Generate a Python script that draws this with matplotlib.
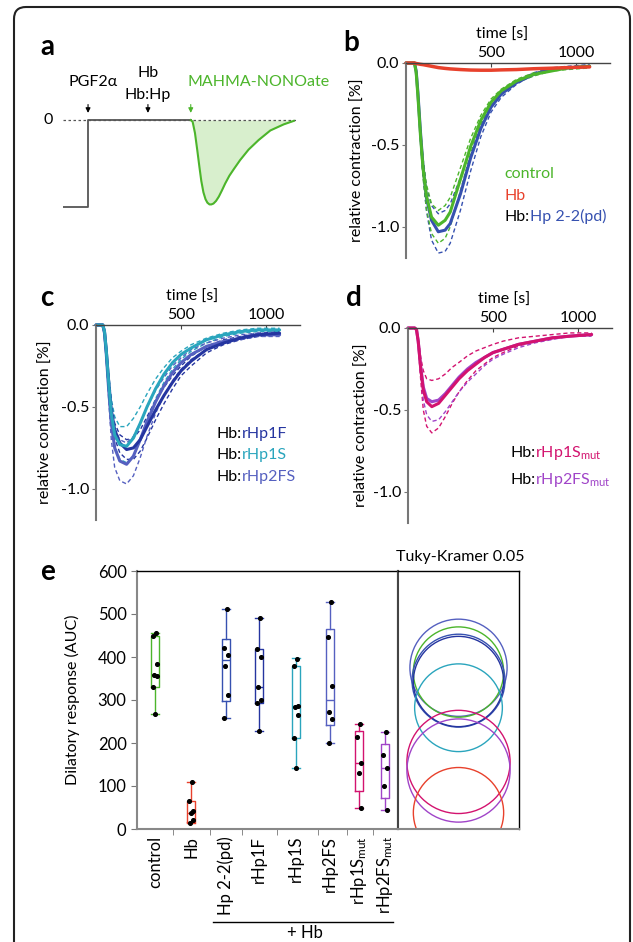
import numpy as np
import matplotlib
matplotlib.use("Agg")
import matplotlib.pyplot as plt
import matplotlib.transforms as mtransforms
from matplotlib.patches import FancyBboxPatch, Circle

plt.rcParams['font.family'] = ['Lato', 'DejaVu Sans']
plt.rcParams['mathtext.default'] = 'regular'

# ---- panel a: schematic trace ----
a_step_x = [0, 10.7, 10.7, 54.6]
a_step_y = [-1, -1, 0, 0]
a_dip_x = [54.6, 55.4, 56.4, 57.4, 58.3, 59.1, 60.0, 60.9, 61.7, 62.6, 63.4, 64.3, 65.4, 66.6,
           67.9, 69.3, 71.1, 73.1, 75.7, 79.3, 83.6, 88.6, 94.3, 98.6]
a_dip_y = [0, -0.02, -0.15, -0.35, -0.54, -0.70, -0.83, -0.91, -0.95, -0.97, -0.97, -0.96, -0.93, -0.88,
           -0.81, -0.73, -0.64, -0.56, -0.46, -0.34, -0.23, -0.12, -0.05, -0.01]

# ---- panel b ----
t_b = [0, 50, 60, 70, 85, 100, 120, 150, 190, 230, 260, 320, 380, 440, 500, 560, 650, 750, 850, 950, 1080]
b_control = [0, 0, -0.06, -0.2, -0.44, -0.64, -0.81, -0.94, -0.99, -0.96, -0.91, -0.71, -0.51, -0.35, -0.24, -0.17, -0.11, -0.07, -0.05, -0.03, -0.02]
b_control_hi = [0, 0, -0.05, -0.18, -0.40, -0.58, -0.74, -0.86, -0.90, -0.87, -0.82, -0.64, -0.46, -0.32, -0.22, -0.16, -0.10, -0.06, -0.04, -0.03, -0.02]
b_control_lo = [0, 0, -0.07, -0.22, -0.48, -0.70, -0.89, -1.04, -1.10, -1.07, -1.0, -0.78, -0.55, -0.38, -0.26, -0.18, -0.12, -0.08, -0.05, -0.04, -0.03]
b_hbhp = [0, 0, -0.05, -0.18, -0.42, -0.63, -0.82, -0.96, -1.03, -1.02, -0.98, -0.80, -0.58, -0.40, -0.27, -0.19, -0.12, -0.07, -0.04, -0.03, -0.02]
b_hbhp_hi = [0, 0, -0.05, -0.17, -0.40, -0.60, -0.76, -0.87, -0.92, -0.90, -0.86, -0.70, -0.52, -0.37, -0.26, -0.18, -0.11, -0.06, -0.03, -0.02, -0.01]
b_hbhp_lo = [0, 0, -0.05, -0.19, -0.45, -0.68, -0.90, -1.08, -1.16, -1.15, -1.10, -0.90, -0.66, -0.45, -0.30, -0.21, -0.13, -0.07, -0.04, -0.03, -0.02]
b_hb = [0, 0, -0.003, -0.005, -0.008, -0.01, -0.014, -0.02, -0.028, -0.033, -0.036, -0.04, -0.043, -0.044, -0.044, -0.042, -0.04, -0.035, -0.032, -0.028, -0.024]

# ---- panels c and d ----
t_cd = [0, 40, 50, 60, 75, 90, 110, 140, 180, 220, 260, 300, 350, 400, 450, 500, 560, 650, 750, 850, 950, 1080]
c_1f = [0, 0, -0.04, -0.15, -0.35, -0.52, -0.64, -0.72, -0.76, -0.75, -0.70, -0.62, -0.52, -0.43, -0.35, -0.28, -0.22, -0.15, -0.11, -0.08, -0.06, -0.05]
c_1f_hi = [0, 0, -0.04, -0.14, -0.32, -0.48, -0.60, -0.67, -0.70, -0.69, -0.64, -0.56, -0.46, -0.38, -0.31, -0.25, -0.19, -0.13, -0.09, -0.07, -0.05, -0.04]
c_1f_lo = [0, 0, -0.05, -0.16, -0.38, -0.56, -0.69, -0.78, -0.82, -0.82, -0.77, -0.69, -0.58, -0.48, -0.39, -0.31, -0.25, -0.17, -0.12, -0.09, -0.07, -0.06]
c_1s = [0, 0, -0.04, -0.15, -0.36, -0.54, -0.67, -0.73, -0.74, -0.69, -0.60, -0.50, -0.39, -0.30, -0.23, -0.18, -0.14, -0.09, -0.06, -0.04, -0.03, -0.03]
c_1s_hi = [0, 0, -0.03, -0.12, -0.30, -0.45, -0.56, -0.62, -0.62, -0.57, -0.50, -0.42, -0.33, -0.26, -0.20, -0.16, -0.12, -0.08, -0.05, -0.03, -0.02, -0.02]
c_1s_lo = [0, 0, -0.05, -0.17, -0.40, -0.60, -0.74, -0.82, -0.84, -0.80, -0.70, -0.58, -0.45, -0.35, -0.27, -0.21, -0.16, -0.11, -0.07, -0.05, -0.04, -0.04]
c_2fs = [0, 0, -0.05, -0.17, -0.40, -0.60, -0.75, -0.83, -0.85, -0.80, -0.70, -0.59, -0.47, -0.37, -0.29, -0.23, -0.18, -0.13, -0.10, -0.08, -0.06, -0.06]
c_2fs_hi = [0, 0, -0.04, -0.14, -0.33, -0.50, -0.63, -0.70, -0.72, -0.68, -0.60, -0.50, -0.40, -0.32, -0.25, -0.20, -0.15, -0.11, -0.08, -0.06, -0.05, -0.05]
c_2fs_lo = [0, 0, -0.06, -0.20, -0.46, -0.70, -0.87, -0.95, -0.97, -0.92, -0.81, -0.68, -0.54, -0.43, -0.34, -0.27, -0.21, -0.15, -0.11, -0.09, -0.07, -0.07]

d_1smut = [0, 0, -0.01, -0.08, -0.25, -0.38, -0.45, -0.48, -0.46, -0.41, -0.36, -0.31, -0.26, -0.22, -0.18, -0.15, -0.13, -0.10, -0.08, -0.06, -0.05, -0.04]
d_1smut_hi = [0, 0, -0.01, -0.06, -0.18, -0.26, -0.31, -0.32, -0.31, -0.28, -0.24, -0.21, -0.17, -0.14, -0.12, -0.10, -0.08, -0.06, -0.05, -0.04, -0.03, -0.03]
d_1smut_lo = [0, 0, -0.02, -0.10, -0.32, -0.50, -0.60, -0.64, -0.61, -0.54, -0.46, -0.39, -0.32, -0.26, -0.22, -0.18, -0.15, -0.11, -0.08, -0.06, -0.05, -0.04]
d_2fsmut = [0, 0, -0.01, -0.08, -0.24, -0.36, -0.43, -0.45, -0.44, -0.40, -0.35, -0.30, -0.25, -0.21, -0.18, -0.15, -0.13, -0.10, -0.08, -0.06, -0.05, -0.04]
d_2fsmut_lo = [0, 0, -0.01, -0.09, -0.28, -0.44, -0.53, -0.57, -0.56, -0.51, -0.45, -0.39, -0.33, -0.28, -0.23, -0.19, -0.16, -0.12, -0.09, -0.07, -0.05, -0.05]

# ---- panel e ----
groups = ['control', 'Hb', 'Hp 2-2(pd)', 'rHp1F', 'rHp1S', 'rHp2FS', 'rHp1S$_{mut}$', 'rHp2FS$_{mut}$']
points = [
    [455, 450, 383, 358, 355, 330, 268],
    [110, 66, 43, 37, 22, 15],
    [511, 421, 404, 380, 311, 259],
    [491, 419, 399, 330, 300, 293, 227],
    [396, 380, 287, 284, 264, 212, 141],
    [527, 446, 332, 271, 256, 201],
    [244, 214, 154, 130, 48],
    [226, 172, 141, 101, 45],
]
box_lo = [268, 15, 259, 227, 141, 201, 48, 45]
box_q1 = [330, 17, 298, 293, 211, 242, 89, 72]
box_med = [358, 37, 393, 330, 285, 300, 153, 141]
box_q3 = [450, 65, 443, 419, 380, 465, 228, 198]
box_hi = [455, 110, 511, 491, 397, 527, 244, 226]

# Tukey-Kramer comparison circles: centre, radius
circ_center = [375, 365, 345, 343, 282, 156, 136, 38]
circ_radius = [113, 105, 108, 105, 102, 120, 120, 105]

GREEN = '#4cb52b'
RED = '#e8412c'
BLUE = '#3651b0'
DBLUE = '#2535a0'
TEAL = '#2aa5bd'
MBLUE = '#5560c0'
MAG = '#d3136f'
PURP = '#a044c8'

box_colors = [GREEN, RED, BLUE, DBLUE, TEAL, MBLUE, MAG, PURP]
circ_colors = [MBLUE, GREEN, BLUE, DBLUE, TEAL, MAG, PURP, RED]

W, H = 633, 942
fig = plt.figure(figsize=(W / 100, H / 100), dpi=100)
renderer = fig.canvas.get_renderer()


def px_axes(x0, y0, x1, y1):
    return fig.add_axes([x0 / W, 1 - y1 / H, (x1 - x0) / W, (y1 - y0) / H])


def letter(x, y, s):
    fig.text(x / W, 1 - y / H, s, fontsize=20, fontweight='bold', ha='left', va='center')


# text made of differently coloured pieces on one baseline
def color_label(ax, x, y, parts, size=11.5):
    shift = 0
    for s, c in parts:
        tr = mtransforms.offset_copy(ax.transData, fig=fig, x=shift, y=0, units='dots')
        t = ax.text(x, y, s, color=c, fontsize=size, ha='left', va='baseline', transform=tr)
        shift += t.get_window_extent(renderer).width


# rounded frame round the whole figure
frame = FancyBboxPatch((14, -30), 616, 965, boxstyle='round,pad=0,rounding_size=12',
                       transform=mtransforms.IdentityTransform(), fill=False, lw=1.5, ec='#222')
fig.add_artist(frame)

# ---------- a ----------
ax_a = px_axes(63, 60, 297, 230)
ax_a.set_xlim(0, 100)
ax_a.set_ylim(-1.264, 0.69)
ax_a.axis('off')
ax_a.fill_between(a_dip_x, a_dip_y, 0, color='#d8efcd', lw=0, zorder=1)
ax_a.plot([0, 100], [0, 0], ls=(0, (2, 2)), color='#555', lw=0.9, zorder=2)
ax_a.plot(a_step_x, a_step_y, color='#555', lw=1.3, zorder=3)
ax_a.plot(a_dip_x, a_dip_y, color=GREEN, lw=1.5, zorder=3)
for xa, col in [(10.7, 'k'), (36.3, 'k'), (54.6, GREEN)]:
    ax_a.annotate('', xy=(xa, 0.05), xytext=(xa, 0.21),
                  arrowprops=dict(arrowstyle='-|>', color=col, lw=0.8, mutation_scale=7))
ax_a.text(-6.4, 0, '0', fontsize=11.5, ha='center', va='center', clip_on=False)
ax_a.text(12.8, 0.437, 'PGF2α', fontsize=11.5, ha='center', va='center')
ax_a.text(36.3, 0.54, 'Hb', fontsize=11.5, ha='center', va='center')
ax_a.text(36.3, 0.287, 'Hb:Hp', fontsize=11.5, ha='center', va='center')
ax_a.text(53.4, 0.437, 'MAHMA-NONOate', fontsize=11.5, ha='left', va='center', color=GREEN, clip_on=False)
letter(40, 47, 'a')


# ---------- b, c, d ----------
def curve_axes(x0, y0, ylab_x):
    ax = px_axes(x0, y0, x0 + 204, y0 + 195)
    ax.set_xlim(0, 1200)
    ax.set_ylim(-1.19, 0)
    ax.xaxis.tick_top()
    ax.xaxis.set_label_position('top')
    ax.set_xticks([500, 1000])
    ax.set_yticks([0, -0.5, -1.0])
    ax.set_yticklabels(['0.0', '-0.5', '-1.0'])
    ax.spines['right'].set_visible(False)
    ax.spines['bottom'].set_visible(False)
    ax.spines['left'].set_color('#777')
    ax.spines['left'].set_linewidth(1.5)
    ax.spines['top'].set_color('#444')
    ax.spines['top'].set_linewidth(1)
    ax.tick_params(axis='x', direction='in', length=3, pad=2, labelsize=11.5, color='#444')
    ax.tick_params(axis='y', direction='out', length=3, pad=2, labelsize=11.5, color='#777')
    ax.set_xlabel('time [s]', fontsize=11.5)
    ax.xaxis.set_label_coords(0.47, 1.125)
    ax.set_ylabel('relative contraction [%]', fontsize=11.5)
    ax.yaxis.set_label_coords(ylab_x, 0.5)
    return ax


def solid(ax, t, y, c, lw=2.2):
    ax.plot(t, y, color=c, lw=lw, clip_on=False, solid_capstyle='round')


def dashed(ax, t, y, c):
    ax.plot(t, y, color=c, lw=1.0, ls=(0, (3, 2)), clip_on=False)


ax_b = curve_axes(406, 63, -0.20)
dashed(ax_b, t_b, b_hbhp_hi, BLUE)
dashed(ax_b, t_b, b_hbhp_lo, BLUE)
dashed(ax_b, t_b, b_control_hi, GREEN)
dashed(ax_b, t_b, b_control_lo, GREEN)
solid(ax_b, t_b, b_hbhp, BLUE)
solid(ax_b, t_b, b_control, GREEN)
solid(ax_b, t_b, b_hb, RED, lw=2.5)
color_label(ax_b, 580, -0.70, [('control', GREEN)])
color_label(ax_b, 580, -0.835, [('Hb', RED)])
color_label(ax_b, 580, -0.965, [('Hb:', 'k'), ('Hp 2-2(pd)', BLUE)])
letter(343, 43, 'b')

ax_c = curve_axes(96, 325, -0.21)
for y, c in [(c_1s_hi, TEAL), (c_1s_lo, TEAL), (c_1f_hi, DBLUE), (c_1f_lo, DBLUE),
             (c_2fs_hi, MBLUE), (c_2fs_lo, MBLUE)]:
    dashed(ax_c, t_cd, y, c)
solid(ax_c, t_cd, c_2fs, MBLUE)
solid(ax_c, t_cd, c_1f, DBLUE)
solid(ax_c, t_cd, c_1s, TEAL)
color_label(ax_c, 710, -0.69, [('Hb:', 'k'), ('rHp1F', DBLUE)])
color_label(ax_c, 710, -0.82, [('Hb:', 'k'), ('rHp1S', TEAL)])
color_label(ax_c, 710, -0.95, [('Hb:', 'k'), ('rHp2FS', MBLUE)])
letter(40, 298, 'c')

ax_d = curve_axes(408, 328, -0.19)
for y, c in [(d_1smut_hi, MAG), (d_1smut_lo, MAG), (d_2fsmut_lo, PURP)]:
    dashed(ax_d, t_cd, y, c)
solid(ax_d, t_cd, d_2fsmut, PURP)
solid(ax_d, t_cd, d_1smut, MAG)
color_label(ax_d, 600, -0.79, [('Hb:', 'k'), ('rHp1S$_{mut}$', MAG)])
color_label(ax_d, 600, -0.95, [('Hb:', 'k'), ('rHp2FS$_{mut}$', PURP)])
letter(346, 298, 'd')

# ---------- e ----------
pos = [0.55, 1.66, 2.73, 3.74, 4.87, 5.92, 6.81, 7.60]
seps = [1.10, 2.24, 3.22, 4.29, 5.55, 6.44, 7.24]
jit = [0.04, -0.06, 0.05, -0.02, 0.06, -0.05, 0.0]

ax_e = px_axes(137, 571, 398, 829)
ax_e.set_xlim(0, 8)
ax_e.set_ylim(0, 600)
stats = [dict(whislo=box_lo[i], q1=box_q1[i], med=box_med[i], q3=box_q3[i],
              whishi=box_hi[i], fliers=[]) for i in range(len(groups))]
bp = ax_e.bxp(stats, positions=pos, widths=0.26, capwidths=0.26, manage_ticks=False)
for i, c in enumerate(box_colors):
    bp['boxes'][i].set(color=c, lw=1)
    bp['medians'][i].set(color=c, lw=1)
    for k in (2 * i, 2 * i + 1):
        bp['whiskers'][k].set(color=c, lw=1)
        bp['caps'][k].set(color=c, lw=1)
for i, vals in enumerate(points):
    xs = [pos[i] + jit[j % len(jit)] for j in range(len(vals))]
    ax_e.scatter(xs, vals, s=7, color='k', zorder=4)

ax_e.set_yticks(range(0, 601, 100))
ax_e.set_xticks(pos)
ax_e.set_xticklabels(groups)
ax_e.set_xticks(seps, minor=True)
ax_e.tick_params(axis='x', which='major', length=0, labelrotation=90, labelsize=12, pad=5)
ax_e.tick_params(axis='x', which='minor', length=4, direction='out', color='#777')
ax_e.tick_params(axis='y', length=4, direction='out', labelsize=12, color='#777')
for s in ['left', 'bottom']:
    ax_e.spines[s].set_color('#888')
    ax_e.spines[s].set_linewidth(1.5)
ax_e.spines['top'].set_color('k')
ax_e.spines['top'].set_linewidth(1)
ax_e.spines['right'].set_color('#444')
ax_e.spines['right'].set_linewidth(1.5)
ax_e.set_ylabel('Dilatory response (AUC)', fontsize=11.5)
ax_e.yaxis.set_label_coords(-0.218, 0.5)
trans = ax_e.get_xaxis_transform()
ax_e.plot([2.33, 7.85], [-0.36, -0.36], color='k', lw=1, transform=trans, clip_on=False)
ax_e.text(5.15, -0.405, '+ Hb', fontsize=12, ha='center', va='center', transform=trans)
letter(40, 572, 'e')

# Tukey-Kramer circles
ax_t = px_axes(398, 571, 519, 829)
xhalf = 300 * 121 / 258
ax_t.set_xlim(-xhalf, xhalf)
ax_t.set_ylim(0, 600)
ax_t.set_xticks([])
ax_t.set_yticks([])
ax_t.spines['left'].set_color('#444')
ax_t.spines['left'].set_linewidth(1.5)
ax_t.spines['bottom'].set_color('#888')
ax_t.spines['bottom'].set_linewidth(1.5)
for s in ['top', 'right']:
    ax_t.spines[s].set_color('k')
    ax_t.spines[s].set_linewidth(1)
for c0, r, col in zip(circ_center, circ_radius, circ_colors):
    ax_t.add_patch(Circle((0, c0), r, fill=False, ec=col, lw=1))
fig.text(460 / W, 1 - 557 / H, 'Tuky-Kramer 0.05', fontsize=11.5, ha='center', va='center')

fig.savefig('out.png', dpi=100)
